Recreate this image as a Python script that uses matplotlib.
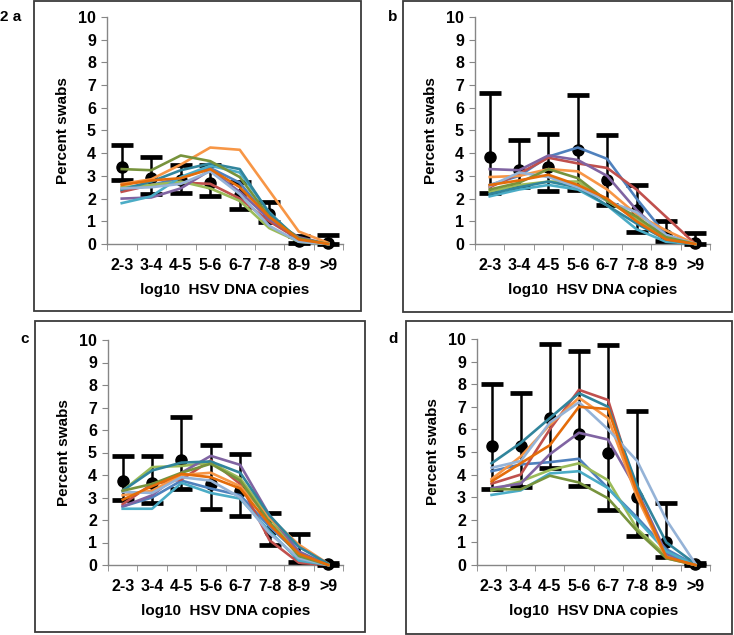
import matplotlib
matplotlib.use("Agg")
import matplotlib.pyplot as plt
from matplotlib.patches import Rectangle

plt.rcParams["font.family"] = ["Liberation Sans", "DejaVu Sans"]
plt.rcParams["font.weight"] = "bold"

# -----------------------------
# Data
# -----------------------------
categories = ["2-3", "3-4", "4-5", "5-6", "6-7", "7-8", "8-9", ">9"]

# Line colours, same order in every panel
line_colors = ["#4F81BD", "#C0504D", "#9BBB59", "#8064A2", "#4BACC6",
               "#F79646", "#31859C", "#95B3D7", "#77933C", "#E46C0A"]

# Panel a
a_mean = [3.4, 2.9, 2.8, 2.7, 2.15, 1.3, 0.15, 0.05]
a_upper = [4.35, 3.85, 3.5, 3.5, 2.75, 1.85, 0.35, 0.4]
a_lower = [2.8, 2.2, 2.25, 2.1, 1.55, 0.95, 0.05, 0.0]
a_lines = [
    [2.35, 2.6, 2.9, 3.35, 2.7, 1.1, 0.2, 0],
    [2.3, 2.6, 2.7, 2.65, 2.0, 1.0, 0.2, 0],
    [2.5, 2.6, 2.75, 2.45, 1.9, 0.7, 0.1, 0],
    [2.0, 2.05, 2.45, 3.25, 2.3, 1.1, 0.3, 0],
    [1.8, 2.1, 2.95, 3.45, 3.15, 1.4, 0.15, 0],
    [2.65, 2.85, 3.5, 4.25, 4.15, 2.35, 0.55, 0.05],
    [2.4, 2.75, 3.25, 3.55, 3.3, 1.35, 0.2, 0],
    [2.45, 2.5, 2.65, 3.2, 2.2, 0.8, 0.1, 0],
    [3.3, 3.25, 3.9, 3.65, 2.95, 1.2, 0.25, 0],
    [2.6, 2.8, 2.9, 3.3, 2.5, 1.2, 0.2, 0],
]

# Panel b
b_mean = [3.85, 3.25, 3.4, 4.15, 2.8, 1.5, 0.4, 0.05]
b_upper = [6.65, 4.6, 4.85, 6.55, 4.8, 2.6, 1.0, 0.5]
b_lower = [2.25, 2.5, 2.35, 2.4, 1.7, 0.55, 0.15, 0.0]
b_lines = [
    [2.6, 3.0, 3.85, 4.25, 3.75, 2.0, 0.4, 0],
    [2.5, 3.1, 3.8, 3.55, 3.35, 2.4, 1.2, 0],
    [2.3, 2.6, 2.75, 2.75, 1.9, 1.1, 0.3, 0],
    [3.3, 3.25, 3.9, 3.7, 3.0, 1.5, 0.3, 0],
    [2.1, 2.4, 2.6, 2.4, 1.7, 0.65, 0.1, 0],
    [2.95, 3.0, 3.3, 3.2, 2.4, 1.3, 0.6, 0],
    [2.2, 2.5, 2.75, 2.5, 1.7, 0.9, 0.2, 0],
    [2.55, 3.15, 2.95, 2.5, 1.9, 1.4, 0.4, 0],
    [2.4, 2.7, 3.3, 2.9, 1.9, 1.2, 0.3, 0],
    [2.6, 2.8, 3.05, 2.6, 2.0, 1.0, 0.2, 0],
]

# Panel c
c_mean = [3.75, 3.65, 4.65, 3.6, 3.3, 1.5, 0.3, 0.05]
c_upper = [4.85, 4.85, 6.6, 5.35, 4.95, 2.3, 1.4, 0.1]
c_lower = [2.9, 2.75, 3.4, 2.5, 2.2, 0.9, 0.15, 0.0]
c_lines = [
    [2.6, 3.0, 3.75, 3.4, 3.1, 1.7, 0.5, 0],
    [2.7, 3.6, 3.8, 4.65, 3.6, 1.1, 0.1, 0],
    [3.3, 4.35, 4.4, 4.55, 3.85, 2.1, 0.45, 0],
    [2.6, 3.1, 4.1, 4.85, 4.45, 2.2, 0.6, 0],
    [2.5, 2.5, 3.65, 3.2, 2.95, 1.5, 0.2, 0],
    [3.1, 3.3, 4.0, 4.1, 3.5, 2.1, 0.9, 0.05],
    [3.3, 4.2, 4.55, 4.6, 4.1, 2.2, 0.8, 0.05],
    [3.25, 3.2, 3.9, 3.75, 3.0, 1.4, 0.3, 0],
    [3.3, 3.6, 4.1, 4.5, 3.75, 1.9, 0.4, 0],
    [2.9, 3.5, 4.05, 3.9, 3.4, 1.8, 0.5, 0],
]

# Panel d
d_mean = [5.25, 5.25, 6.5, 5.8, 4.95, 3.0, 1.0, 0.05]
d_upper = [8.0, 7.6, 9.8, 9.45, 9.75, 6.8, 2.75, 0.1]
d_lower = [3.35, 3.45, 4.3, 3.5, 2.45, 1.3, 0.35, 0.0]
d_lines = [
    [4.15, 4.45, 4.55, 4.7, 3.4, 2.1, 0.7, 0],
    [3.6, 4.0, 6.0, 7.75, 7.3, 3.2, 0.35, 0],
    [3.3, 3.7, 4.2, 4.5, 3.75, 1.6, 0.4, 0],
    [3.4, 3.6, 4.9, 5.85, 5.55, 3.3, 0.5, 0],
    [3.1, 3.3, 4.05, 4.15, 3.4, 2.0, 0.6, 0],
    [3.8, 4.8, 6.2, 7.4, 6.5, 3.0, 0.3, 0],
    [4.5, 5.4, 6.5, 7.6, 7.0, 3.5, 1.0, 0.05],
    [4.3, 4.6, 6.3, 7.2, 6.0, 4.6, 2.0, 0.05],
    [3.35, 3.35, 3.95, 3.65, 2.95, 1.5, 0.3, 0],
    [3.7, 4.5, 5.3, 7.0, 6.9, 3.2, 0.35, 0],
]

panels = [
    ("2 a", a_mean, a_upper, a_lower, a_lines),
    ("b", b_mean, b_upper, b_lower, b_lines),
    ("c", c_mean, c_upper, c_lower, c_lines),
    ("d", d_mean, d_upper, d_lower, d_lines),
]

# -----------------------------
# Layout (pixels of a 734x635 image)
# -----------------------------
W, H = 734, 635
fig = plt.figure(figsize=(W / 100, H / 100), dpi=100)

# axes boxes: left, right, top (y=10), bottom (y=0)
axes_px = [(107, 343, 17, 244), (475, 710, 17, 244),
           (108, 343, 340, 565), (477, 710, 339, 565)]
# outer frame boxes: left, right, top, bottom
frame_px = [(34, 361, 1, 311), (403, 732, 1, 312),
            (35, 365, 321, 632), (406, 732, 321, 634)]
# panel letter positions
letter_px = [(0, 17), (388, 17), (20, 339), (388, 339)]

x = list(range(len(categories)))
gray = "#868686"

for i, (letter, mean, upper, lower, lines) in enumerate(panels):
    fl, fr, ft, fb = frame_px[i]
    fig.patches.append(Rectangle((fl / W, 1 - fb / H), (fr - fl) / W, (fb - ft) / H,
                                 transform=fig.transFigure, fill=False,
                                 edgecolor="#3a3a3a", linewidth=1.3))
    lx, ly = letter_px[i]
    fig.text(lx / W, 1 - ly / H, letter, fontsize=11, fontweight="bold",
             ha="left", va="center")

    l, r, t, b = axes_px[i]
    ax = fig.add_axes([l / W, 1 - b / H, (r - l) / W, (b - t) / H])

    yerr = [[max(m - lo, 0) for m, lo in zip(mean, lower)],
            [max(up - m, 0) for m, up in zip(mean, upper)]]
    ax.errorbar(x, mean, yerr=yerr, fmt="o", color="black", markersize=8,
                elinewidth=1.8, capsize=8, capthick=3.4, zorder=2, clip_on=False)
    for vals, col in zip(lines, line_colors):
        ax.plot(x, vals, color=col, linewidth=1.9, zorder=3, clip_on=False)

    ax.set_xlim(-0.5, len(categories) - 0.5)
    ax.set_ylim(0, 10)
    ax.set_yticks(range(0, 11))
    ax.set_xticks(x)
    ax.set_xticklabels(categories)
    ax.set_xticks([k - 0.5 for k in range(len(categories) + 1)], minor=True)
    ax.tick_params(axis="x", which="major", length=0, pad=10, labelsize=11.5)
    ax.tick_params(axis="x", which="minor", length=4, color=gray, direction="out")
    ax.tick_params(axis="y", length=4, color=gray, direction="out", labelsize=11.5, pad=4)
    for lab in ax.get_xticklabels() + ax.get_yticklabels():
        lab.set_fontweight("bold")

    for side in ("top", "right"):
        ax.spines[side].set_visible(False)
    for side in ("left", "bottom"):
        ax.spines[side].set_color(gray)
        ax.spines[side].set_linewidth(1.0)
    ax.spines["bottom"].set_zorder(1)

    ax.set_xlabel("log10  HSV DNA copies", fontsize=11, fontweight="bold", labelpad=7)
    ax.set_ylabel("Percent swabs", fontsize=11, fontweight="bold", labelpad=6)

fig.savefig("out.png", dpi=100)
